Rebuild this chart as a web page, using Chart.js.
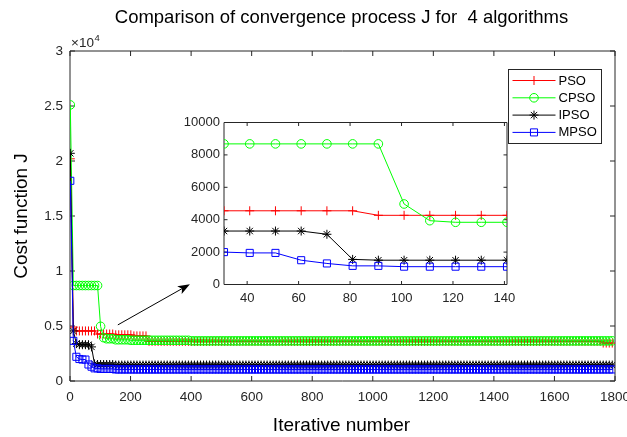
<!DOCTYPE html>
<html><head><meta charset="utf-8">
<script src="https://cdn.jsdelivr.net/npm/chart.js@4.4.1/dist/chart.umd.min.js"></script>
<style>
html,body{margin:0;padding:0;background:#fff;}
#wrap{position:relative;width:627px;height:437px;overflow:hidden;background:#fff;}
#inset{position:absolute;left:150px;top:100px;z-index:1;}
#main{position:absolute;left:0;top:0;z-index:2;}
</style></head><body>
<div id="wrap"><canvas id="inset" width="380" height="215"></canvas><canvas id="main" width="627" height="437"></canvas></div>
<script>
const FONT = '"Liberation Sans", Arial, Helvetica, sans-serif';
const TXT = '#262626';

const iterations = [
  1,11,21,31,41,51,61,71,81,91,101,111,121,131,141,151,161,171,181,191,
  201,211,221,231,241,251,261,271,281,291,301,311,321,331,341,351,361,371,381,391,
  401,411,421,431,441,451,461,471,481,491,501,511,521,531,541,551,561,571,581,591,
  601,611,621,631,641,651,661,671,681,691,701,711,721,731,741,751,761,771,781,791,
  801,811,821,831,841,851,861,871,881,891,901,911,921,931,941,951,961,971,981,991,
  1001,1011,1021,1031,1041,1051,1061,1071,1081,1091,1101,1111,1121,1131,1141,1151,1161,1171,1181,1191,
  1201,1211,1221,1231,1241,1251,1261,1271,1281,1291,1301,1311,1321,1331,1341,1351,1361,1371,1381,1391,
  1401,1411,1421,1431,1441,1451,1461,1471,1481,1491,1501,1511,1521,1531,1541,1551,1561,1571,1581,1591,
  1601,1611,1621,1631,1641,1651,1661,1671,1681,1691,1701,1711,1721,1731,1741,1751,1761,1771,1781,1791
];

const seriesNames = ['PSO', 'CPSO', 'IPSO', 'MPSO'];

const psoValues = [
  20200,4900,4550,4550,4550,4550,4550,4550,4550,4270,4270,4270,4270,4270,4270,4200,4200,4200,4200,4200,
  4200,4100,4100,4100,4100,4100,3600,3600,3600,3600,3600,3600,3600,3600,3600,3600,3600,3600,3600,3600,
  3600,3600,3600,3600,3600,3600,3600,3600,3600,3600,3600,3600,3600,3600,3600,3600,3600,3600,3600,3600,
  3600,3600,3600,3600,3600,3600,3600,3600,3600,3600,3600,3600,3600,3600,3600,3600,3600,3600,3600,3600,
  3600,3600,3600,3600,3600,3600,3600,3600,3600,3600,3600,3600,3600,3600,3600,3600,3600,3600,3600,3600,
  3600,3600,3600,3600,3600,3600,3600,3600,3600,3600,3600,3600,3600,3600,3600,3600,3600,3600,3600,3600,
  3600,3600,3600,3600,3600,3600,3600,3600,3600,3600,3600,3600,3600,3600,3600,3600,3600,3600,3600,3600,
  3600,3600,3600,3600,3600,3600,3600,3600,3600,3600,3600,3600,3600,3600,3600,3600,3600,3600,3600,3600,
  3600,3600,3600,3600,3600,3600,3600,3600,3600,3600,3600,3600,3600,3600,3600,3600,3450,3450,3450,3450
];

const cpsoValues = [
  25100,8680,8680,8680,8680,8680,8680,8680,8680,8680,4970,3940,3840,3840,3840,3750,3750,3750,3750,3750,
  3700,3700,3700,3700,3700,3700,3700,3700,3700,3700,3700,3700,3700,3700,3700,3700,3700,3700,3700,3700,
  3650,3650,3650,3650,3650,3650,3650,3650,3650,3650,3650,3650,3650,3650,3650,3650,3650,3650,3650,3650,
  3650,3650,3650,3650,3650,3650,3650,3650,3650,3650,3650,3650,3650,3650,3650,3650,3650,3650,3650,3650,
  3650,3650,3650,3650,3650,3650,3650,3650,3650,3650,3650,3650,3650,3650,3650,3650,3650,3650,3650,3650,
  3650,3650,3650,3650,3650,3650,3650,3650,3650,3650,3650,3650,3650,3650,3650,3650,3650,3650,3650,3650,
  3650,3650,3650,3650,3650,3650,3650,3650,3650,3650,3650,3650,3650,3650,3650,3650,3650,3650,3650,3650,
  3650,3650,3650,3650,3650,3650,3650,3650,3650,3650,3650,3650,3650,3650,3650,3650,3650,3650,3650,3650,
  3650,3650,3650,3650,3650,3650,3650,3650,3650,3650,3650,3650,3650,3650,3650,3650,3650,3650,3650,3650
];

const ipsoValues = [
  20700,4550,3400,3300,3300,3300,3300,3100,1550,1500,1500,1500,1500,1500,1500,1450,1450,1450,1450,1450,
  1450,1450,1450,1450,1450,1450,1450,1450,1450,1450,1450,1450,1450,1450,1450,1450,1450,1450,1450,1450,
  1450,1450,1450,1450,1450,1450,1450,1450,1450,1450,1450,1450,1450,1450,1450,1450,1450,1450,1450,1450,
  1450,1450,1450,1450,1450,1450,1450,1450,1450,1450,1450,1450,1450,1450,1450,1450,1450,1450,1450,1450,
  1450,1450,1450,1450,1450,1450,1450,1450,1450,1450,1450,1450,1450,1450,1450,1450,1450,1450,1450,1450,
  1450,1450,1450,1450,1450,1450,1450,1450,1450,1450,1450,1450,1450,1450,1450,1450,1450,1450,1450,1450,
  1450,1450,1450,1450,1450,1450,1450,1450,1450,1450,1450,1450,1450,1450,1450,1450,1450,1450,1450,1450,
  1450,1450,1450,1450,1450,1450,1450,1450,1450,1450,1450,1450,1450,1450,1450,1450,1450,1450,1450,1450,
  1450,1450,1450,1450,1450,1450,1450,1450,1450,1450,1450,1450,1450,1450,1450,1450,1450,1450,1450,1450
];

const mpsoValues = [
  18200,3650,2200,2000,1950,1950,1500,1300,1150,1150,1100,1100,1100,1100,1100,1050,1050,1050,1050,1050,
  1050,1050,1050,1050,1050,1050,1050,1050,1050,1050,1050,1050,1050,1050,1050,1050,1050,1050,1050,1050,
  1050,1050,1050,1050,1050,1050,1050,1050,1050,1050,1050,1050,1050,1050,1050,1050,1050,1050,1050,1050,
  1050,1050,1050,1050,1050,1050,1050,1050,1050,1050,1050,1050,1050,1050,1050,1050,1050,1050,1050,1050,
  1050,1050,1050,1050,1050,1050,1050,1050,1050,1050,1050,1050,1050,1050,1050,1050,1050,1050,1050,1050,
  1050,1050,1050,1050,1050,1050,1050,1050,1050,1050,1050,1050,1050,1050,1050,1050,1050,1050,1050,1050,
  1050,1050,1050,1050,1050,1050,1050,1050,1050,1050,1050,1050,1050,1050,1050,1050,1050,1050,1050,1050,
  1050,1050,1050,1050,1050,1050,1050,1050,1050,1050,1050,1050,1050,1050,1050,1050,1050,1050,1050,1050,
  1050,1050,1050,1050,1050,1050,1050,1050,1050,1050,1050,1050,1050,1050,1050,1050,1050,1050,1050,1050
];

const seriesColors = ['#ff0000', '#00ff00', '#000000', '#0000ff'];
const seriesMarkers = ['cross', 'circle', 'star', 'rect'];
const markerRadii = [4.5, 4.3, 4.5, 5];

const mainXTicks = [0, 200, 400, 600, 800, 1000, 1200, 1400, 1600, 1800];
const mainYTicks = [0, 5000, 10000, 15000, 20000, 25000, 30000];
const insetXTicks = [40, 60, 80, 100, 120, 140];
const insetYTicks = [0, 2000, 4000, 6000, 8000, 10000];
const insetRange = [31, 141];
const arrowFrom = [158, 5100];
const arrowTo = [396, 8800];

const titleText = 'Comparison of convergence process J for  4 algorithms';
const xLabelText = 'Iterative number';
const yLabelText = 'Cost function J';

const allValues = [psoValues, cpsoValues, ipsoValues, mpsoValues];

function makeDatasets(keep) {
  return seriesNames.map((name, i) => ({
    label: name,
    data: iterations.map((x, k) => ({ x: x, y: allValues[i][k] })).filter(p => keep(p.x)),
    borderColor: seriesColors[i],
    backgroundColor: 'rgba(0,0,0,0)',
    pointBorderColor: seriesColors[i],
    pointBackgroundColor: 'rgba(0,0,0,0)',
    pointStyle: seriesMarkers[i],
    pointRadius: markerRadii[i],
    pointHoverRadius: markerRadii[i],
    pointBorderWidth: 1,
    borderWidth: 1,
    tension: 0,
    fill: false,
    order: 4 - i
  }));
}

function drawMarker(ctx, style, x, y, r) {
  ctx.beginPath();
  if (style === 'circle') {
    ctx.arc(x, y, r, 0, Math.PI * 2);
  } else if (style === 'cross') {
    ctx.moveTo(x - r, y); ctx.lineTo(x + r, y);
    ctx.moveTo(x, y - r); ctx.lineTo(x, y + r);
  } else if (style === 'star') {
    const d = r * Math.SQRT1_2;
    ctx.moveTo(x - r, y); ctx.lineTo(x + r, y);
    ctx.moveTo(x, y - r); ctx.lineTo(x, y + r);
    ctx.moveTo(x - d, y - d); ctx.lineTo(x + d, y + d);
    ctx.moveTo(x - d, y + d); ctx.lineTo(x + d, y - d);
  } else if (style === 'rect') {
    const s = r * Math.SQRT1_2;
    ctx.rect(x - s, y - s, 2 * s, 2 * s);
  }
  ctx.stroke();
}

const axesBox = {
  id: 'axesBox',
  beforeDatasetsDraw(chart, args, opts) {
    const ctx = chart.ctx, a = chart.chartArea;
    const xs = chart.scales.x, ys = chart.scales.y;
    const L = opts.len || 5;
    ctx.save();
    ctx.strokeStyle = TXT;
    ctx.lineWidth = 1;
    ctx.beginPath();
    ctx.rect(a.left, a.top, a.right - a.left, a.bottom - a.top);
    xs.ticks.forEach(t => {
      const p = xs.getPixelForValue(t.value);
      ctx.moveTo(p, a.bottom); ctx.lineTo(p, a.bottom - L);
      ctx.moveTo(p, a.top); ctx.lineTo(p, a.top + L);
    });
    ys.ticks.forEach(t => {
      const p = ys.getPixelForValue(t.value);
      ctx.moveTo(a.left, p); ctx.lineTo(a.left + L, p);
      ctx.moveTo(a.right, p); ctx.lineTo(a.right - L, p);
    });
    ctx.stroke();
    ctx.restore();
  }
};

const mainDecor = {
  id: 'mainDecor',
  afterDraw(chart) {
    const ctx = chart.ctx, a = chart.chartArea;
    const xs = chart.scales.x, ys = chart.scales.y;
    const cx = (a.left + a.right) / 2 - 1;
    ctx.save();
    // title
    ctx.fillStyle = '#000';
    ctx.textAlign = 'center';
    ctx.textBaseline = 'middle';
    ctx.font = '18.5px ' + FONT;
    ctx.fillText(titleText, cx, 18);
    // x label
    ctx.font = '19px ' + FONT;
    ctx.fillText(xLabelText, cx, 426);
    // y label
    ctx.save();
    ctx.translate(22, (a.top + a.bottom) / 2);
    ctx.rotate(-Math.PI / 2);
    ctx.fillText(yLabelText, 0, 0);
    ctx.restore();
    // exponent
    ctx.fillStyle = TXT;
    ctx.textAlign = 'left';
    ctx.font = '13.5px ' + FONT;
    const base = '\u00d710';
    ctx.fillText(base, a.left + 1, a.top - 8);
    const w = ctx.measureText(base).width;
    ctx.font = '9.5px ' + FONT;
    ctx.fillText('4', a.left + 1 + w + 0.5, a.top - 13);

    // arrow
    const x0 = xs.getPixelForValue(arrowFrom[0]), y0 = ys.getPixelForValue(arrowFrom[1]);
    const x1 = xs.getPixelForValue(arrowTo[0]), y1 = ys.getPixelForValue(arrowTo[1]);
    const dx = x1 - x0, dy = y1 - y0, len = Math.hypot(dx, dy);
    const ux = dx / len, uy = dy / len, nx = -uy, ny = ux;
    const hl = 12, hw = 4.5, notch = 9;
    ctx.strokeStyle = '#000';
    ctx.fillStyle = '#000';
    ctx.lineWidth = 1;
    ctx.beginPath();
    ctx.moveTo(x0, y0);
    ctx.lineTo(x1 - ux * notch, y1 - uy * notch);
    ctx.stroke();
    ctx.beginPath();
    ctx.moveTo(x1, y1);
    ctx.lineTo(x1 - ux * hl + nx * hw, y1 - uy * hl + ny * hw);
    ctx.lineTo(x1 - ux * notch, y1 - uy * notch);
    ctx.lineTo(x1 - ux * hl - nx * hw, y1 - uy * hl - ny * hw);
    ctx.closePath();
    ctx.fill();

    // legend
    const bw = 93, bh = 74;
    const bx = Math.round(a.right - 14 - bw) + 0.5, by = Math.round(a.top + 18) + 0.5;
    ctx.fillStyle = '#fff';
    ctx.fillRect(bx, by, bw, bh);
    ctx.strokeStyle = TXT;
    ctx.strokeRect(bx, by, bw, bh);
    ctx.font = '13px ' + FONT;
    ctx.textBaseline = 'middle';
    seriesNames.forEach((name, i) => {
      const ry = by + 11 + i * 17.3;
      ctx.strokeStyle = seriesColors[i];
      ctx.lineWidth = 1;
      ctx.beginPath();
      ctx.moveTo(bx + 4, ry); ctx.lineTo(bx + 47, ry);
      ctx.stroke();
      drawMarker(ctx, seriesMarkers[i], bx + 25.5, ry, markerRadii[i]);
      ctx.fillStyle = '#000';
      ctx.fillText(name, bx + 50, ry + 0.5);
    });
    ctx.restore();
  }
};

function scaleOpts(min, max, ticksArr, fontSize, pad, fitFn, cb) {
  return {
    type: 'linear', min: min, max: max,
    grid: { display: false, drawTicks: false },
    border: { display: false },
    ticks: {
      font: { family: FONT, size: fontSize }, color: TXT, padding: pad,
      maxRotation: 0, minRotation: 0, autoSkip: false,
      callback: cb || (v => String(v))
    },
    afterBuildTicks: s => { s.ticks = ticksArr.map(v => ({ value: v })); },
    afterFit: fitFn
  };
}

new Chart(document.getElementById('inset'), {
  type: 'line',
  data: { datasets: makeDatasets(x => x >= insetRange[0] && x <= insetRange[1]) },
  options: {
    responsive: false, animation: false, devicePixelRatio: 1, events: [],
    layout: { padding: { left: 0, top: 22.5, right: 23, bottom: 0 } },
    plugins: { legend: { display: false }, tooltip: { enabled: false }, axesBox: { len: 3.5 } },
    scales: {
      x: scaleOpts(insetRange[0], insetRange[1], insetXTicks, 13, 6,
        s => { s.height = 30.5; s.paddingLeft = 0; s.paddingRight = 0; }),
      y: scaleOpts(0, 10000, insetYTicks, 13, 4,
        s => { s.width = 74; s.paddingTop = 0; s.paddingBottom = 0; })
    }
  },
  plugins: [axesBox]
});

new Chart(document.getElementById('main'), {
  type: 'line',
  data: { datasets: makeDatasets(() => true) },
  options: {
    responsive: false, animation: false, devicePixelRatio: 1, events: [],
    layout: { padding: { left: 0, top: 51, right: 12, bottom: 0 } },
    plugins: { legend: { display: false }, tooltip: { enabled: false }, axesBox: { len: 5 } },
    scales: {
      x: scaleOpts(0, 1800, mainXTicks, 13.5, 8.5,
        s => { s.height = 56; s.paddingLeft = 0; s.paddingRight = 0; }),
      y: scaleOpts(0, 30000, mainYTicks, 13.5, 7,
        s => { s.width = 70; s.paddingTop = 0; s.paddingBottom = 0; },
        v => String(v / 10000))
    }
  },
  plugins: [axesBox, mainDecor]
});
</script>
</body></html>
